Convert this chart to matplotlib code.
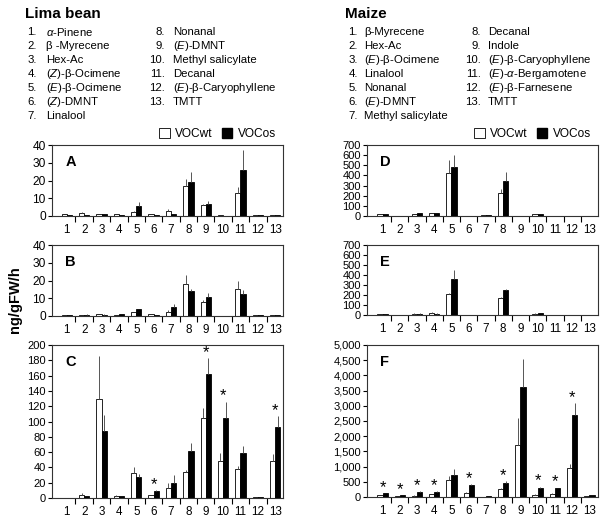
import numpy as np
import matplotlib
matplotlib.use('Agg')
from matplotlib import pyplot as plt
from matplotlib.patches import Patch

plt.rcParams['font.family'] = ['Liberation Sans', 'DejaVu Sans']
plt.rcParams['mathtext.fontset'] = 'custom'
plt.rcParams['mathtext.rm'] = 'Liberation Sans'
plt.rcParams['mathtext.it'] = 'Liberation Sans:italic'

# compound names
lima_names = [r'$\it{α}$-Pinene', 'β -Myrecene', 'Hex-Ac', r'($\it{Z}$)-β-Ocimene',
              r'($\it{E}$)-β-Ocimene', r'($\it{Z}$)-DMNT', 'Linalool', 'Nonanal',
              r'($\it{E}$)-DMNT', 'Methyl salicylate', 'Decanal',
              r'($\it{E}$)-β-Caryophyllene', 'TMTT']
maize_names = ['β-Myrecene', 'Hex-Ac', r'($\it{E}$)-β-Ocimene', 'Linalool', 'Nonanal',
               r'($\it{E}$)-DMNT', 'Methyl salicylate', 'Decanal', 'Indole',
               r'($\it{E}$)-β-Caryophyllene', r'($\it{E}$)-$\it{α}$-Bergamotene',
               r'($\it{E}$)-β-Farnesene', 'TMTT']

cats = np.arange(1, 14)

# Lima bean (ng/gFW/h), mean and upper error tip
A_wt = [1, 1.5, 1, 1, 2.5, 1, 3, 17, 6, 0.3, 13, 0.3, 0.3]
A_wt_top = [1.2, 2, 1.2, 1.2, 3, 1.2, 4, 21, 7, 0.3, 16.5, 0.3, 0.3]
A_os = [0.5, 0.5, 1, 0.7, 5.5, 0.5, 1.2, 19, 7, 0.2, 26, 0.3, 0.4]
A_os_top = [0.6, 0.6, 1.2, 0.8, 8, 0.6, 1.4, 25, 8.5, 0.2, 37, 0.3, 0.4]

B_wt = [0.5, 0.7, 1.2, 0.6, 2, 1.2, 2.5, 18, 8, 0.2, 15, 0.4, 0.3]
B_wt_top = [0.6, 0.8, 1.4, 0.7, 2.5, 1.4, 3.5, 23, 9, 0.2, 19.5, 0.5, 0.3]
B_os = [0.6, 0.8, 0.8, 1.2, 3.8, 0.5, 5, 14, 10.5, 0.2, 12.5, 0.7, 0.4]
B_os_top = [0.7, 0.9, 0.9, 1.4, 4.2, 0.6, 7, 15, 13, 0.2, 14.5, 0.8, 0.4]

C_wt = [0.5, 4, 130, 3, 33, 4, 13, 34, 105, 48, 38, 1, 48]
C_wt_top = [0.5, 6, 185, 3.5, 40, 4.5, 19, 37, 117, 59, 42, 1, 58]
C_os = [0.5, 2, 87, 2, 27, 9.5, 19, 61, 162, 104, 59, 1, 93]
C_os_top = [0.5, 2.2, 109, 2.2, 32, 10, 30, 72, 183, 126, 68, 1, 107]
C_sig = [6, 9, 10, 13]

# Maize
D_wt = [15, 3, 15, 25, 420, 2, 5, 230, 2, 15, 2, 2, 2]
D_wt_top = [17, 3, 17, 28, 555, 2, 6, 270, 2, 17, 2, 2, 2]
D_os = [20, 3, 25, 30, 480, 2, 10, 350, 2, 15, 2, 2, 2]
D_os_top = [22, 3, 28, 33, 600, 2, 12, 430, 2, 17, 2, 2, 2]

E_wt = [10, 2, 15, 25, 215, 2, 3, 175, 2, 15, 2, 2, 2]
E_wt_top = [11, 2, 17, 27, 218, 2, 3, 185, 2, 20, 2, 2, 2]
E_os = [8, 2, 15, 15, 365, 2, 2, 250, 2, 20, 2, 2, 2]
E_os_top = [9, 2, 17, 17, 455, 2, 2, 260, 2, 25, 2, 2, 2]

F_wt = [60, 20, 40, 90, 560, 130, 10, 250, 1700, 80, 110, 950, 40]
F_wt_top = [70, 25, 50, 100, 700, 150, 12, 280, 2600, 90, 130, 1070, 45]
F_os = [120, 50, 160, 180, 740, 400, 30, 460, 3620, 290, 280, 2700, 70]
F_os_top = [130, 55, 190, 200, 920, 420, 35, 530, 4550, 340, 310, 3100, 80]
F_sig = [1, 2, 3, 4, 6, 8, 10, 11, 12]

fig = plt.figure(figsize=(6.03, 5.21), dpi=100)

W = 231 / 603
def px_axes(left, top, bottom):
    return fig.add_axes([left / 603, 1 - bottom / 521, W, (bottom - top) / 521])


def draw_panel(ax, wt, wt_top, os_, os_top, ymax, yticks, letter, xlim, sig=None, fmt=None, tfs=8):
    w = 0.3
    wt = np.array(wt); os_ = np.array(os_)
    err_wt = [np.zeros(13), np.array(wt_top) - wt]
    err_os = [np.zeros(13), np.array(os_top) - os_]
    ekw = dict(ecolor='#555555', elinewidth=0.7, capsize=0)
    ax.bar(cats - w / 2, wt, w, color='white', edgecolor='black', linewidth=0.6,
           yerr=err_wt, error_kw=ekw, zorder=2)
    ax.bar(cats + w / 2, os_, w, color='black', edgecolor='black', linewidth=0.6,
           yerr=err_os, error_kw=ekw, zorder=2)
    ax.set_xlim(*xlim)
    ax.set_ylim(0, ymax)
    ax.set_yticks(yticks)
    if fmt:
        ax.set_yticklabels([fmt(v) for v in yticks])
    ax.set_xticks(np.arange(1.5, 13, 1))
    ax.set_xticklabels([])
    ax.set_xticks(cats, minor=True)
    ax.set_xticklabels([str(c) for c in cats], minor=True, fontsize=8.4)
    ax.tick_params(axis='x', which='minor', length=0, pad=6)
    ax.tick_params(axis='x', which='major', length=4, width=0.8, direction='out')
    ax.tick_params(axis='y', labelsize=tfs, length=3, width=0.8, pad=1.5)
    for s in ax.spines.values():
        s.set_linewidth(0.8)
        s.set_color('#333333')
    ax.annotate(letter, (0, 1), xycoords='axes fraction', xytext=(9.5, -7.5),
                textcoords='offset points', fontsize=10.5, fontweight='bold',
                va='top', ha='left')
    if sig:
        for c in sig:
            top = max(wt_top[c - 1], os_top[c - 1])
            ax.annotate('*', (c, top), xytext=(0, 4), textcoords='offset points',
                        ha='center', va='center', fontsize=12)


axA = px_axes(52, 145, 216)
axB = px_axes(52, 245, 316)
axC = px_axes(52, 345, 498)
axD = px_axes(367, 145, 216)
axE = px_axes(367, 245, 315)
axF = px_axes(367, 345, 497)

lim_l = (0.15, 13.45)
lim_r = (0.1, 13.5)
draw_panel(axA, A_wt, A_wt_top, A_os, A_os_top, 40, range(0, 41, 10), 'A', lim_l, tfs=8.6)
draw_panel(axB, B_wt, B_wt_top, B_os, B_os_top, 40, range(0, 41, 10), 'B', lim_l, tfs=8.6)
draw_panel(axC, C_wt, C_wt_top, C_os, C_os_top, 200, range(0, 201, 20), 'C', lim_l,
           sig=C_sig, tfs=8)
draw_panel(axD, D_wt, D_wt_top, D_os, D_os_top, 700, range(0, 701, 100), 'D', lim_r, tfs=8)
draw_panel(axE, E_wt, E_wt_top, E_os, E_os_top, 700, range(0, 701, 100), 'E', lim_r, tfs=8)
draw_panel(axF, F_wt, F_wt_top, F_os, F_os_top, 5000, range(0, 5001, 500), 'F', lim_r,
           sig=F_sig, fmt=lambda v: f'{v:,}', tfs=8)

# legends
handles = [Patch(facecolor='white', edgecolor='black', linewidth=0.6, label='VOCwt'),
           Patch(facecolor='black', edgecolor='black', label='VOCos')]
for ax in (axA, axD):
    ax.legend(handles=handles, loc='lower right', bbox_to_anchor=(1.0, 0.97), ncol=2,
              frameon=False, fontsize=8.6, handlelength=0.85, handleheight=0.85,
              handletextpad=0.45, columnspacing=0.8, borderpad=0.1)

# titles
fig.text(25 / 603, 1 - 14 / 521, 'Lima bean', fontsize=11, fontweight='bold', va='center')
fig.text(345 / 603, 1 - 14 / 521, 'Maize', fontsize=11, fontweight='bold', va='center')

# compound lists
def compound_list(names, x_num1, x_name1, x_num2, x_name2):
    for i, n in enumerate(names):
        if i < 7:
            xn, xt, row = x_num1, x_name1, i
        else:
            xn, xt, row = x_num2, x_name2, i - 7
        y = 1 - (32 + 14 * row) / 521
        fig.text(xn / 603, y, f'{i + 1}.', fontsize=8.2, va='center', ha='right')
        fig.text(xt / 603, y, n, fontsize=8.2, va='center', ha='left')

compound_list(lima_names, 37, 46, 165, 173)
compound_list(maize_names, 358, 364, 481, 488)

fig.text(15 / 603, 1 - 300 / 521, 'ng/gFW/h', rotation=90, fontsize=10.5,
         fontweight='bold', va='center', ha='center')

fig.savefig('out.png', dpi=100)
